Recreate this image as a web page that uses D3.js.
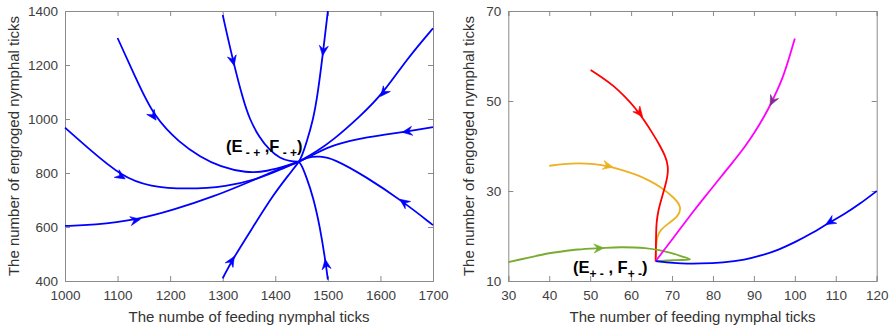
<!DOCTYPE html>
<html><head><meta charset="utf-8">
<script src="https://cdn.jsdelivr.net/npm/d3@7"></script>
<style>
body{margin:0;background:#fff;}
svg text{font-family:"Liberation Sans",Arial,Helvetica,sans-serif;}
</style></head>
<body><svg id="c" width="891" height="327"></svg>
<script>
// ---------- Data ----------
const leftXTicks = [1000,1100,1200,1300,1400,1500,1600,1700];
const leftYTicks = [400,600,800,1000,1200,1400];
const rightXTicks = [30,40,50,60,70,80,90,100,110,120];
const rightYTicks = [10,30,50,70];

// left panel trajectories (all flow toward the equilibrium)
const leftA = [[1100,1300],[1135,1150],[1169,1008],[1219,910],[1257,860],[1295,823],[1345,800],[1383,805],[1428,830],[1445,842]];
const leftB = [[1300,1385],[1320,1212],[1339,1070],[1351,1000],[1370,930],[1389,885],[1409,854],[1428,843],[1445,842]];
const leftC = [[1500,1400],[1491,1249],[1481,1095],[1472,996],[1459,910],[1450,860],[1445,842]];
const leftD = [[1700,1336],[1649,1219],[1605,1095],[1561,1009],[1510,922],[1478,879],[1453,851],[1445,842]];
const leftE = [[1700,970],[1649,953],[1573,934],[1510,904],[1478,873],[1445,842]];
const leftF = [[1700,607],[1643,694],[1573,786],[1510,854],[1485,863],[1459,858],[1445,842]];
const leftG = [[1000,968],[1041,897],[1108,786],[1162,749],[1231,740],[1307,749],[1371,780],[1415,817],[1445,842]];
const leftH = [[1000,604],[1054,607],[1136,626],[1206,663],[1282,712],[1352,768],[1409,817],[1445,842]];
const leftI = [[1300,410],[1318,478],[1358,601],[1396,719],[1428,799],[1445,842]];
const leftJ = [[1500,405],[1496,466],[1485,601],[1472,712],[1459,786],[1450,830],[1445,842]];
const leftArrows = [[1169,1008],[1320,1212],[1491,1249],[1605,1095],[1649,953],[1643,694],[1108,786],[1136,626],[1318,478],[1496,466]];

// right panel trajectories
const rightOrange = [[40,35.6],[43.5,36.0],[47.1,36.2],[51,36.0],[54.6,35.5],[58,34.6],[61.4,33.6],[64.3,32.4],[67.1,31.0],[70.3,28.7],[72.4,26.5],[71.5,24.3],[69.1,22.8],[67.1,21.3],[66.3,19.8],[66.05,17],[66,14.4]];
const rightRed = [[50.1,56.9],[53,55.2],[55.7,53.4],[58.5,51.0],[61,48.5],[63.2,45.7],[65.2,42.9],[67,40.2],[68.4,37.7],[69.1,35.4],[68.9,33.2],[68.3,31.0],[67.5,28.5],[66.65,25.8],[66.2,23],[66.1,20.6],[66.05,17],[66,14.4]];
const rightGreen = [[30,14.2],[35,15.2],[39,16.0],[42.6,16.5],[47,17.0],[52.4,17.3],[57.7,17.5],[63.4,17.3],[67.1,16.8],[69.9,16.2],[72,15.6],[74.4,14.8],[71.1,14.65],[68,14.5],[66,14.4]];
const rightMagenta = [[100,63.9],[98.6,59.5],[97,55],[95.5,52],[94.4,49.8],[92.5,46.5],[90.3,43.2],[87.8,39.8],[84.5,36],[81.3,32.4],[78,28.7],[74.8,25.0],[72.3,22],[69.9,19.1],[67.9,16.7],[66,14.4]];
const rightBlue = [[120,30],[116,27.2],[112,24.8],[108.4,23],[104,20.5],[100,18.6],[96,16.9],[92,15.7],[87.8,14.7],[82.5,14.1],[77,13.85],[72,13.9],[68.5,14.1],[66,14.4]];
const rightArrowOrange = [54.6,35.5];
const rightArrowRed = [62.2,47.2];
const rightArrowGreen = [52.4,17.3];
const rightArrowMagenta = [94.4,49.8];
const rightArrowBlue = [108.4,23];

// ---------- Drawing ----------
const svg = d3.select("#c");
const axisColor = "#8a8a8a", labelColor = "#404040";

function panel(cfg){
  const g = svg.append("g");
  const x = d3.scaleLinear().domain(cfg.xd).range([cfg.l, cfg.r]);
  const y = d3.scaleLinear().domain(cfg.yd).range([cfg.b, cfg.t]);
  const tl = 5;
  const axB = d3.axisBottom(x).tickValues(cfg.xt).tickSize(-tl).tickPadding(9).tickFormat(d3.format("d"));
  const axT = d3.axisTop(x).tickValues(cfg.xt).tickSize(-tl).tickFormat("");
  const axL = d3.axisLeft(y).tickValues(cfg.yt).tickSize(-tl).tickPadding(7).tickFormat(d3.format("d"));
  const axR = d3.axisRight(y).tickValues(cfg.yt).tickSize(-tl).tickFormat("");
  const gB = g.append("g").attr("transform",`translate(0,${cfg.b})`).call(axB);
  const gT = g.append("g").attr("transform",`translate(0,${cfg.t})`).call(axT);
  const gL = g.append("g").attr("transform",`translate(${cfg.l},0)`).call(axL);
  const gR = g.append("g").attr("transform",`translate(${cfg.r},0)`).call(axR);
  [gB,gT,gL,gR].forEach(a=>{
    a.select(".domain").attr("stroke",axisColor).attr("stroke-width",1);
    a.selectAll(".tick line").attr("stroke",axisColor);
    a.selectAll("text").attr("fill",labelColor).attr("font-size",13.5).attr("font-family","Liberation Sans, Arial, sans-serif");
  });
  g.append("text").attr("x",(cfg.l+cfg.r)/2).attr("y",322).attr("text-anchor","middle")
    .attr("font-size",15).attr("fill","#333").text(cfg.xlabel);
  g.append("text").attr("transform",`translate(${cfg.ylx},${(cfg.t+cfg.b)/2}) rotate(-90)`)
    .attr("text-anchor","middle").attr("font-size",15).attr("fill","#333").text(cfg.ylabel);
  return {g,x,y};
}

const smooth = (x,y)=>d3.line().x(d=>x(d[0])).y(d=>y(d[1])).curve(d3.curveBasis);
const sharp = (x,y)=>d3.line().x(d=>x(d[0])).y(d=>y(d[1])).curve(d3.curveCatmullRom.alpha(0.5));

function arrowAt(g,x,y,pts,pt,color){
  let best=0,bd=1e9;
  const P = pts.map(p=>[x(p[0]),y(p[1])]);
  const q=[x(pt[0]),y(pt[1])];
  P.forEach((p,i)=>{const d=(p[0]-q[0])**2+(p[1]-q[1])**2; if(d<bd){bd=d;best=i;}});
  const i0=Math.max(0,best-1), i1=Math.min(P.length-1,best+1);
  const a=Math.atan2(P[i1][1]-P[i0][1],P[i1][0]-P[i0][0]);
  g.append("path").attr("d","M0,0 L-10,-4.5 L-6.5,0 L-10,4.5 Z")
    .attr("fill",color).attr("stroke",color).attr("stroke-width",0.6)
    .attr("transform",`translate(${q[0]+Math.cos(a)*4},${q[1]+Math.sin(a)*4}) rotate(${a*180/Math.PI})`);
}

// Left panel
const L = panel({xd:[1000,1700],yd:[400,1400],l:65,r:433,t:11,b:281,xt:leftXTicks,yt:leftYTicks,
  xlabel:"The numbe of feeding nymphal ticks",ylabel:"The number of engroged nymphal ticks",ylx:19});
const leftCurves=[leftA,leftB,leftC,leftD,leftE,leftF,leftG,leftH,leftI,leftJ];
leftCurves.forEach((c,i)=>{
  L.g.append("path").attr("d",smooth(L.x,L.y)(c)).attr("fill","none").attr("stroke","#0000ff").attr("stroke-width",1.8);
  arrowAt(L.g,L.x,L.y,c,leftArrows[i],"#0000ff");
});
const t1=L.g.append("text").attr("x",226).attr("y",152).attr("font-size",16.5).attr("font-weight","bold").attr("fill","#000");
t1.append("tspan").text("(E");
t1.append("tspan").attr("dy",5).attr("font-size",12).text(" - +");
t1.append("tspan").attr("dy",-5).text(" ,F");
t1.append("tspan").attr("dy",5).attr("font-size",12).text(" - +");
t1.append("tspan").attr("dy",-5).text(")");

// Right panel
const R = panel({xd:[30,120],yd:[10,70],l:508.3,r:876.7,t:11,b:281,xt:rightXTicks,yt:rightYTicks,
  xlabel:"The number of feeding nymphal ticks",ylabel:"The number of engorged nymphal ticks",ylx:474});
const rc=[[rightOrange,"#EDB120",rightArrowOrange,"#EDB120",smooth],[rightRed,"#ff0000",rightArrowRed,"#ff0000",smooth],
  [rightGreen,"#77AC30",rightArrowGreen,"#77AC30",sharp],[rightMagenta,"#ff00ff",rightArrowMagenta,"#7E2F8E",smooth],
  [rightBlue,"#0000ff",rightArrowBlue,"#0000ff",smooth]];
rc.forEach(([c,col,a,acol,ln])=>{
  R.g.append("path").attr("d",ln(R.x,R.y)(c)).attr("fill","none").attr("stroke",col).attr("stroke-width",1.8);
  arrowAt(R.g,R.x,R.y,c,a,acol);
});
const t2=R.g.append("text").attr("x",573).attr("y",273).attr("font-size",16.5).attr("font-weight","bold").attr("fill","#000");
t2.append("tspan").text("(E");
t2.append("tspan").attr("dy",5).attr("font-size",12).text("+ -");
t2.append("tspan").attr("dy",-5).text(" , F");
t2.append("tspan").attr("dy",5).attr("font-size",12).text("+ -");
t2.append("tspan").attr("dy",-5).text(")");
</script></body></html>
